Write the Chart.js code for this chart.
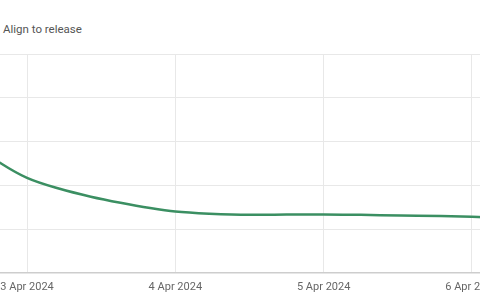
<!DOCTYPE html>
<html>
<head>
<meta charset="utf-8">
<script src="https://cdn.jsdelivr.net/npm/chart.js@4/dist/chart.umd.min.js"></script>
<style>
  html, body { margin: 0; padding: 0; width: 480px; height: 300px; overflow: hidden; background: #fff; }
  #wrap { position: absolute; left: -40px; top: 0; width: 560px; height: 306px; }
  #titulo { position: absolute; left: 3px; top: 22px; font: 11.5px Roboto, "Noto Sans", sans-serif; color: #555; }
</style>
</head>
<body>
<div id="titulo">Align to release</div>
<div id="wrap"><canvas id="grafica"></canvas></div>
<script>
// días (1 = 1 Apr 2024) y valores
const dias = [2.55, 2.7, 2.82, 3.0, 3.22, 3.43, 3.63, 3.83, 4.0, 4.23, 4.5, 4.75, 5.0, 5.25, 5.52, 5.79, 6.0, 6.15, 6.32];
const valores = [3.25, 2.8, 2.51, 2.17, 1.92, 1.74, 1.6, 1.48, 1.4, 1.35, 1.325, 1.33, 1.335, 1.325, 1.31, 1.3, 1.28, 1.26, 1.24];
const diasTicks = [3, 4, 5, 6];
const etiquetasTicks = ['3 Apr 2024', '4 Apr 2024', '5 Apr 2024', '6 Apr 2024'];
const nivelesY = [0, 1, 2, 3, 4, 5];

const ctx = document.getElementById('grafica');
new Chart(ctx, {
    type: 'line',
    data: {
        datasets: [{
            data: dias.map((d, i) => ({ x: d, y: valores[i] })),
            borderColor: '#3b8f62',
            borderWidth: 2.5,
            pointRadius: 0,
            cubicInterpolationMode: 'monotone',
            fill: false
        }]
    },
    options: {
        responsive: true,
        maintainAspectRatio: false,
        animation: false,
        layout: { padding: { top: 54, left: 0, right: 0, bottom: 4 } },
        plugins: { legend: { display: false }, tooltip: { enabled: false } },
        scales: {
            x: {
                type: 'linear',
                min: 2.548,
                max: 6.324,
                afterBuildTicks: (eje) => { eje.ticks = diasTicks.map(v => ({ value: v })); },
                ticks: {
                    autoSkip: false,
                    maxRotation: 0,
                    padding: 8,
                    color: '#666',
                    font: { family: 'Roboto', size: 11 },
                    callback: (v) => etiquetasTicks[diasTicks.indexOf(v)] || ''
                },
                grid: { color: '#e8e8e8', drawTicks: false },
                border: { color: '#cdcdcd', width: 1.5 }
            },
            y: {
                min: 0,
                max: 5,
                afterBuildTicks: (eje) => { eje.ticks = nivelesY.map(v => ({ value: v })); },
                ticks: { display: false },
                grid: { color: '#e8e8e8', drawTicks: false },
                border: { display: false }
            }
        }
    }
});
</script>
</body>
</html>
